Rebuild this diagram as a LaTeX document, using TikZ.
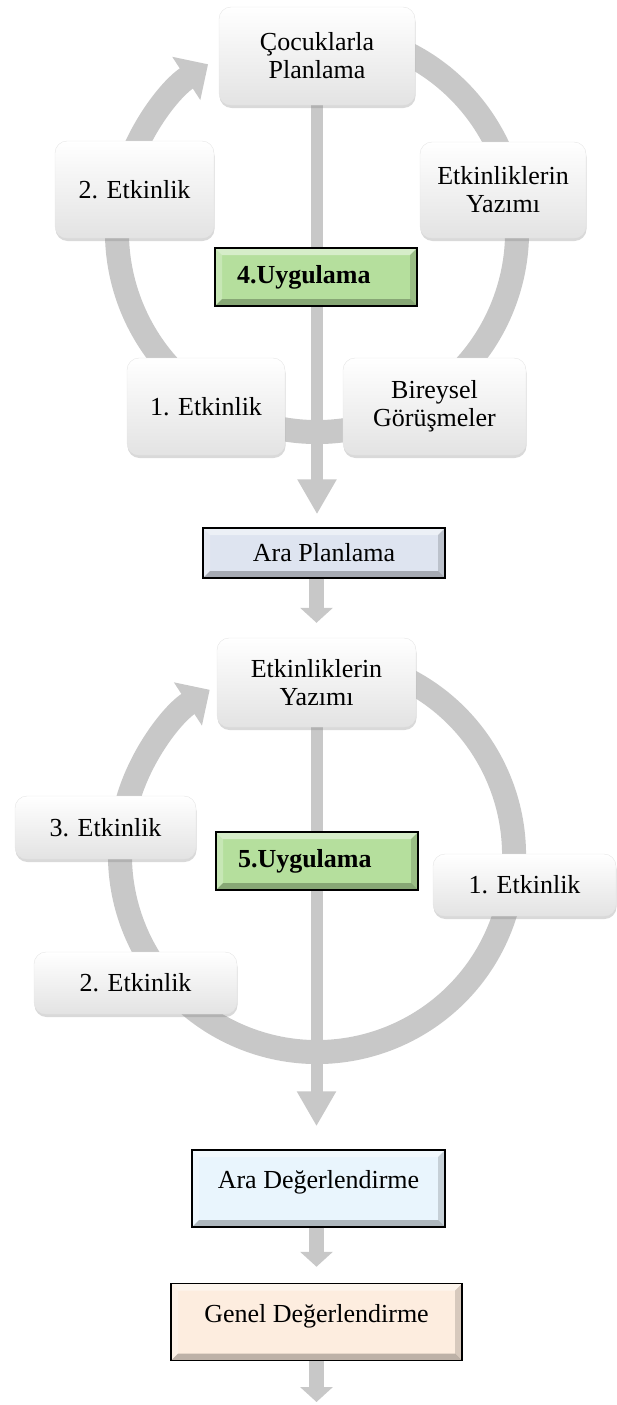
\documentclass[tikz,border=0pt]{standalone}
\usepackage{fontspec}
\setmainfont{Liberation Serif}
\usetikzlibrary{
    arrows.meta,
    shadows,
    backgrounds,
    positioning
}
\definecolor{ringgray}{RGB}{200,200,200}
\definecolor{uyggreen}{RGB}{181,223,157}
\definecolor{planblue}{RGB}{222,228,240}
\definecolor{degblue}{RGB}{233,245,253}
\definecolor{genpeach}{RGB}{253,237,223}
\newcommand{\ppb}{path picture bounding box}
\newcommand{\kartfont}{\fontsize{26}{28}\selectfont}
\tikzset{
    card/.style={rounded corners=12pt, draw=black!10, top color=white, bottom color=black!11,
        align=center, inner sep=2pt,
        drop shadow={shadow xshift=0.5pt, shadow yshift=-3pt, opacity=0.3}},
    bevel/.style={draw=black, line width=1.5pt, fill=#1, inner sep=2pt,
        path picture={
            \fill[white, opacity=0.45] (\ppb.north west) -- (\ppb.north east)
                -- ([xshift=-7pt, yshift=-7pt]\ppb.north east) -- ([xshift=7pt, yshift=-7pt]\ppb.north west) -- cycle;
            \fill[white, opacity=0.25] (\ppb.north west) -- ([xshift=7pt, yshift=-7pt]\ppb.north west)
                -- ([xshift=7pt, yshift=7pt]\ppb.south west) -- (\ppb.south west) -- cycle;
            \fill[black, opacity=0.25] (\ppb.south west) -- (\ppb.south east)
                -- ([xshift=-7pt, yshift=7pt]\ppb.south east) -- ([xshift=7pt, yshift=7pt]\ppb.south west) -- cycle;
            \fill[black, opacity=0.15] (\ppb.north east) -- ([xshift=-7pt, yshift=-7pt]\ppb.north east)
                -- ([xshift=-7pt, yshift=7pt]\ppb.south east) -- (\ppb.south east) -- cycle;
        }},
    uyg/.style={bevel=uyggreen, font=\kartfont\bfseries, text width=158pt, align=left, inner xsep=22pt, minimum height=58pt},
    deg/.style={bevel=#1, text height=28pt, text depth=28pt, inner ysep=10.5pt},
    ring/.style={ringgray, line width=24pt, -{Triangle[width=50pt, length=26pt]}},
    cycleflow/.style={ringgray, line width=12pt, -{Triangle[width=37pt, length=35pt]}},
    flow/.style={ringgray, line width=15pt, -{Triangle[width=32pt, length=15pt]}}
}

\begin{document}
\begin{tikzpicture}[x=1pt, y=1pt, font=\kartfont]
    \useasboundingbox (0, 0) rectangle (617, -1405);

    \node[card, minimum width=196pt, minimum height=98pt] (plan4) at (317, -56) {Çocuklarla\\Planlama};
    \node[card, minimum width=159pt, minimum height=97pt] (etk2) at (134.5, -189.5) {2. Etkinlik};
    \node[card, minimum width=166pt, minimum height=96pt] (yazim4) at (503, -190) {Etkinliklerin\\Yazımı};
    \node[uyg] (uyg4) at (316, -277) {4.Uygulama};
    \node[card, minimum width=158pt, minimum height=97pt] (etk1) at (206, -406.5) {1. Etkinlik};
    \node[card, minimum width=183pt, minimum height=97pt] (gorusme) at (434.5, -406.5) {Bireysel\\Görüşmeler};

    \node[bevel=planblue, minimum width=242pt, minimum height=50pt] (araplan) at (324, -553) {Ara Planlama};

    \node[card, minimum width=199pt, minimum height=89pt] (yazim5) at (316.5, -682.5) {Etkinliklerin\\Yazımı};
    \node[card, minimum width=181pt, minimum height=63pt] (etk3b) at (105.5, -827.5) {3. Etkinlik};
    \node[uyg] (uyg5) at (317, -861) {5.Uygulama};
    \node[card, minimum width=183pt, minimum height=62pt] (etk1b) at (524.5, -885) {1. Etkinlik};
    \node[card, minimum width=203pt, minimum height=62pt] (etk2b) at (135.5, -983) {2. Etkinlik};

    \node[deg=degblue, minimum width=253pt] (aradeg) at (318.5, -1188.5) {Ara Değerlendirme};
    \node[deg=genpeach, minimum width=291pt] (geneldeg) at (316.5, -1322) {Genel Değerlendirme};
    \coordinate (son) at (316.5, -1402);

    \begin{scope}[on background layer]
        \coordinate (c4) at (317, -232);
        \coordinate (c5) at (317, -855);
        \draw[ring] ([shift={(70:200 and 200)}]c4) arc[start angle=70, end angle=-237, x radius=200, y radius=200];
        \draw[ring] ([shift={(70:197 and 197)}]c5) arc[start angle=70, end angle=-237, x radius=197, y radius=197];
        \draw[cycleflow, shorten >=13pt] (plan4.south) -- (plan4.south |- araplan.north);
        \draw[cycleflow, shorten >=23pt] (yazim5.south) -- (yazim5.south |- aradeg.north);
    \end{scope}

    \draw[flow, shorten >=15pt] (araplan.south -| yazim5.north) -- (yazim5.north);
    \draw[flow, shorten >=16pt] (aradeg.south -| geneldeg.north) -- (geneldeg.north);
    \draw[flow] (geneldeg.south) -- (son);
\end{tikzpicture}
\end{document}
